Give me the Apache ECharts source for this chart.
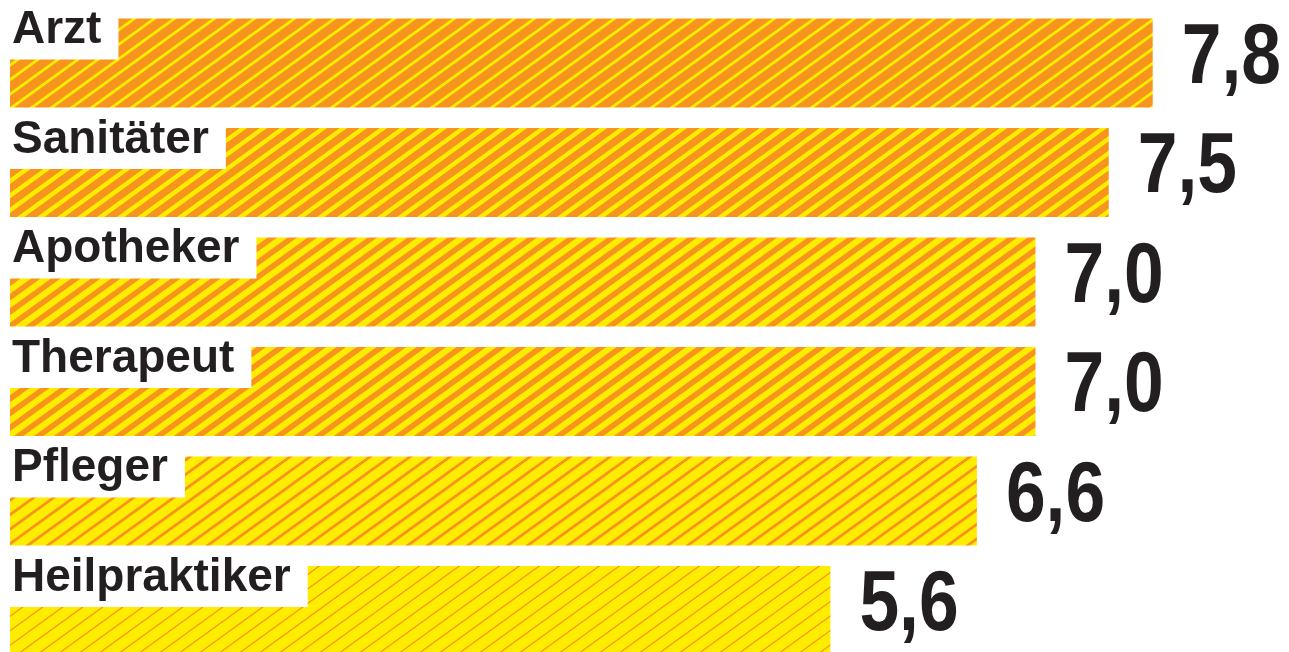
<!DOCTYPE html>
<html>
<head>
<meta charset="utf-8">
<script src="https://cdn.jsdelivr.net/npm/echarts@6/dist/echarts.min.js"></script>
<style>
  html, body { margin: 0; padding: 0; background: #fff; }
  #chart { width: 1289px; height: 652px; }
</style>
</head>
<body>
<div id="chart"></div>
<script>
// data
const categories = ['Arzt', 'Sanitäter', 'Apotheker', 'Therapeut', 'Pfleger', 'Heilpraktiker'];
const values = [7.8, 7.5, 7.0, 7.0, 6.6, 5.6];

// stripe look per bar: background, stripe colour, stripe width
const ORANGE = '#F7941D';
const YELLOW = '#FFED00';
const stripeBg = [ORANGE, ORANGE, YELLOW, YELLOW, YELLOW, YELLOW];
const stripeFg = [YELLOW, YELLOW, ORANGE, ORANGE, ORANGE, ORANGE];
const stripeWidth = [2.8, 4.3, 5.5, 5.5, 2.7, 1.3];

const TEXT = '#231F20';
const FONT = '"Liberation Sans", Arial, sans-serif';

// one big tile, lines run past the edges so the repeats join without seams
function makeStripes(bg, fg, w) {
  const h = 20, v = 14.5, n = 10;
  const W = h * n, H = v * n;
  const c = document.createElement('canvas');
  c.width = W;
  c.height = H;
  const ctx = c.getContext('2d');
  ctx.fillStyle = bg;
  ctx.fillRect(0, 0, W, H);
  ctx.strokeStyle = fg;
  ctx.lineWidth = w;
  ctx.beginPath();
  for (let x0 = -3 * h; x0 <= 2 * W + 3 * h; x0 += h) {
    ctx.moveTo(x0 + h, -v);
    ctx.lineTo(x0 - W - h, H + v);
  }
  ctx.stroke();
  return c;
}

function formatValue(v) {
  return v.toFixed(1).replace('.', ',');
}

const chart = echarts.init(document.getElementById('chart'));

chart.setOption({
  animation: false,
  grid: { left: 10, top: 63, width: 1172, height: 547.5, containLabel: false },
  xAxis: { type: 'value', min: 0, max: 8, show: false },
  yAxis: { type: 'category', data: categories, inverse: true, boundaryGap: false, show: false },
  series: [
    {
      type: 'bar',
      barWidth: 89,
      clip: false,
      data: values.map((v, i) => ({
        value: v,
        itemStyle: {
          color: { image: makeStripes(stripeBg[i], stripeFg[i], stripeWidth[i]), repeat: 'repeat' }
        }
      }))
    },
    {
      // white name boxes at the top left of each bar
      type: 'bar',
      barWidth: 89,
      barGap: '-100%',
      clip: false,
      silent: true,
      z: 3,
      itemStyle: { color: 'rgba(0,0,0,0)' },
      data: values,
      label: {
        show: true,
        position: 'insideTopLeft',
        distance: 0,
        offset: [0, -19],
        formatter: '{b}',
        backgroundColor: '#fff',
        padding: [8, 17, 6, 2],
        lineHeight: 46,
        fontFamily: FONT,
        fontWeight: 'bold',
        fontSize: 46,
        color: TEXT
      }
    },
    {
      // big value numbers, squeezed a little to look like the condensed original
      type: 'custom',
      silent: true,
      clip: false,
      z: 4,
      data: values.map((v, i) => [v, i]),
      encode: { x: 0, y: 1 },
      renderItem: (params, api) => {
        const pt = api.coord([api.value(0), api.value(1)]);
        return {
          type: 'text',
          x: pt[0] + 29,
          y: pt[1] - 4,
          scaleX: 0.83,
          style: {
            text: formatValue(api.value(0)),
            font: 'bold 86px ' + FONT,
            fill: TEXT,
            align: 'left',
            verticalAlign: 'middle'
          }
        };
      }
    }
  ]
});
</script>
</body>
</html>
